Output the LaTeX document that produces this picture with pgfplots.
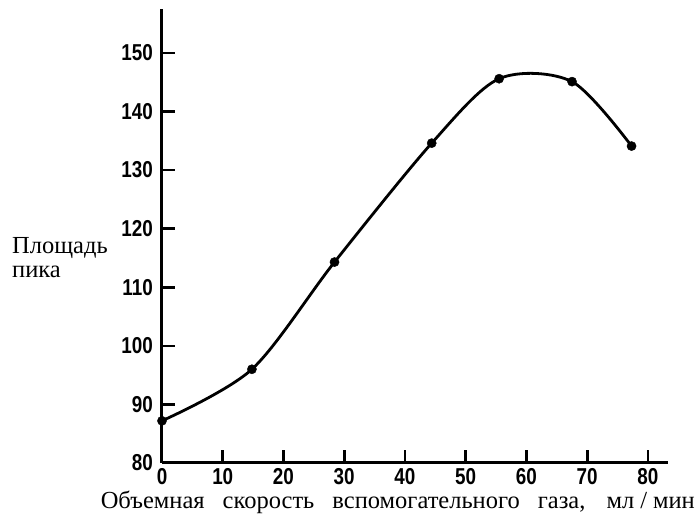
\documentclass[border=0pt]{standalone}
\usepackage{fontspec}
\setmainfont{Liberation Serif}
\newfontfamily\tickfont{Liberation Sans}[FakeStretch=0.82]
\usepackage{pgfplots}
\pgfplotsset{compat=1.18}

\begin{document}
\begin{tikzpicture}
\useasboundingbox (-162pt,-63pt) rectangle (536pt,463pt);
\begin{axis}[
  at={(0pt,0pt)}, anchor=south west,
  scale only axis,
  width=506pt, height=454pt,
  xmin=0, xmax=83.3, ymin=80, ymax=157.5,
  axis lines=left,
  axis line style={-, line width=3pt},
  tick align=inside,
  major tick length=13pt,
  tick style={line width=2.6pt, black},
  xtick={0,10,...,80}, ytick={80,90,...,150},
  /pgf/number format/assume math mode=true,
  tick label style={font=\tickfont\bfseries\fontsize{23}{23}\selectfont, inner sep=0pt},
  xticklabel style={yshift=-5pt},
  yticklabel style={xshift=-9pt},
  clip=false,
]
\addplot[black, line width=2.8pt, smooth, mark=*, mark size=4.6pt,
  mark options={solid, fill=black, line width=0.4pt}] coordinates {
  (0,87.2) (14.8,96.0) (28.4,114.3) (44.4,134.6) (55.5,145.6) (67.5,145.1) (77.3,134.1)
};
\end{axis}
% y label
\node[anchor=base west, inner sep=0pt, font=\fontsize{24.5}{24.5}\selectfont] at (-150pt,209pt) {Площадь};
\node[anchor=base west, inner sep=0pt, font=\fontsize{24.5}{24.5}\selectfont] at (-150pt,185pt) {пика};
% x label
\node[anchor=base east, inner sep=0pt, font=\fontsize{24.5}{24.5}\selectfont] at (533pt,-46pt)
  {\makebox[594pt][s]{Объемная скорость вспомогательного газа, мл\hspace{6pt}/\hspace{6pt}мин}};
\end{tikzpicture}
\end{document}
